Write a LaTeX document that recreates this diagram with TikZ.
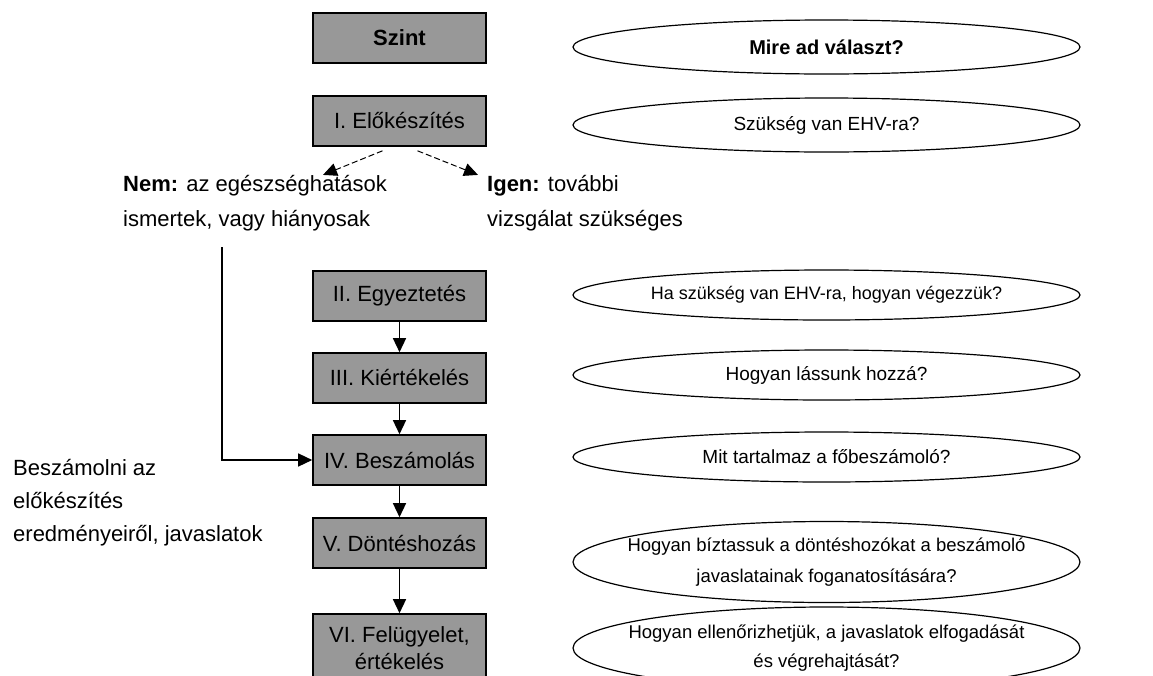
\documentclass[tikz,border=0pt]{standalone}
\usepackage{fontspec}
\setmainfont{Liberation Sans}
\usetikzlibrary{shapes.geometric,arrows.meta}
\definecolor{boxgray}{RGB}{152,152,152}
\tikzset{
  level/.style={draw,line width=1.6pt,fill=boxgray,minimum width=173pt,minimum height=50pt,inner sep=0pt,align=center,font=\fontsize{22}{31}\selectfont},
  question/.style={draw,ellipse,line width=1.2pt,minimum width=507pt,minimum height=50pt,inner xsep=-40pt,inner ysep=-10pt,align=center,font=\fontsize{19}{31}\selectfont},
  note/.style={inner sep=0pt,align=left,anchor=west,font=\fontsize{22}{35}\selectfont},
  flow/.style={line width=1.4pt,-{Triangle[length=14pt,width=13pt]}}
}
\begin{document}
\begin{tikzpicture}[x=1pt,y=-1pt]
      \useasboundingbox (0,0) rectangle (1153,675);
      \clip (0,0) rectangle (1153,675);

      \node[level,font=\fontsize{22}{31}\selectfont\bfseries] (0) at (399.5,38) {Szint};
      \node[level] (1) at (399.5,121) {I. Előkészítés};
      \node[level] (2) at (399.5,296) {II. Egyeztetés};
      \node[level] (3) at (399.5,378) {III. Kiértékelés};
      \node[level] (4) at (399.5,460) {IV. Beszámolás};
      \node[level] (5) at (399.5,543) {V. Döntéshozás};
      \node[level,minimum height=68pt,font=\fontsize{22}{27}\selectfont] (6) at (399.5,648) {VI. Felügyelet,\\ értékelés};

      \node[question,minimum height=54pt,font=\fontsize{20}{31}\selectfont\bfseries] (q0) at (826.5,47) {Mire ad választ?};
      \node[question,minimum height=54pt] (q1) at (826.5,125) {Szükség van EHV-ra?};
      \node[question,font=\fontsize{18}{31}\selectfont] (q2) at (826.5,295) {Ha szükség van EHV-ra, hogyan végezzük?};
      \node[question] (q3) at (826.5,375) {Hogyan lássunk hozzá?};
      \node[question] (q4) at (826.5,457) {Mit tartalmaz a főbeszámoló?};
      \node[question,minimum height=81pt,font=\fontsize{18.5}{31}\selectfont] (q5) at (826.5,562) {Hogyan bíztassuk a döntéshozókat a beszámoló\\ javaslatainak foganatosítására?};
      \node[question,minimum height=82pt,font=\fontsize{18.5}{29}\selectfont] (q6) at (826.5,648) {Hogyan ellenőrizhetjük, a javaslatok elfogadását\\ és végrehajtását?};

      \node[note] (nem) at (123,203) {\textbf{Nem:} az egészséghatások\\ ismertek, vagy hiányosak};
      \node[note] (igen) at (487,203) {\textbf{Igen:} további\\ vizsgálat szükséges};
      \node[note,font=\fontsize{22}{33}\selectfont] (besz) at (13,503) {Beszámolni az\\ előkészítés\\ eredményeiről, javaslatok};
      \coordinate (c) at (222,247);

      \draw[flow,line width=1pt,dash pattern=on 6pt off 3pt] ([xshift=-17pt,yshift=-4pt]1.south) -- ([xshift=200pt]nem.north west);
      \draw[flow,line width=1pt,dash pattern=on 6pt off 3pt] ([xshift=18pt,yshift=-4pt]1.south) -- ([xshift=-9pt]igen.north west);
      \draw[flow] (2) -- (3);
      \draw[flow] (3) -- (4);
      \draw[flow] (4) -- (5);
      \draw[flow] (5) -- (6);
      \draw[flow] (c) |- (4);
    \end{tikzpicture}
\end{document}
